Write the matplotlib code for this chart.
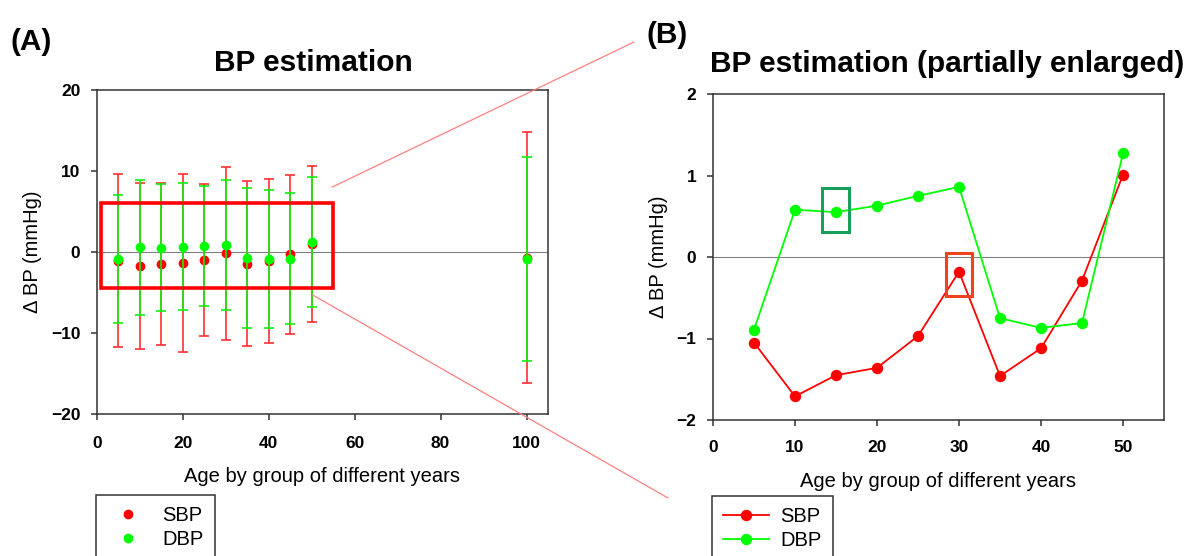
import numpy as np
import matplotlib
matplotlib.use("Agg")
import matplotlib.pyplot as plt
from matplotlib.lines import Line2D
from matplotlib.patches import Rectangle, ConnectionPatch

plt.rcParams['font.family'] = ['Liberation Sans', 'DejaVu Sans']

# ---- data ----
age = [5, 10, 15, 20, 25, 30, 35, 40, 45, 50, 100]
sbp_mean = [-1.05, -1.71, -1.45, -1.36, -0.97, -0.18, -1.46, -1.12, -0.29, 1.01, -0.70]
dbp_mean = [-0.89, 0.58, 0.55, 0.63, 0.75, 0.86, -0.75, -0.87, -0.81, 1.27, -0.88]
sbp_sd = [10.68, 10.29, 10.00, 10.93, 9.35, 10.68, 10.19, 10.17, 9.78, 9.60, 15.50]
dbp_sd = [7.93, 8.35, 7.80, 7.85, 7.42, 8.00, 8.60, 8.48, 8.14, 8.00, 12.60]

# enlarged view uses the groups up to 50 years
n_zoom = 10

RED = '#ff0000'
GREEN = '#00ff00'
SPINE = '#333333'

W, H = 1195, 556
fig = plt.figure(figsize=(W / 100, H / 100), dpi=100)


def style(ax):
    for s in ax.spines.values():
        s.set_color(SPINE)
        s.set_linewidth(1.1)
    ax.tick_params(direction='out', length=4, width=1.1, color=SPINE,
                   labelsize=12.5)
    for lab in ax.get_xticklabels() + ax.get_yticklabels():
        lab.set_fontweight('bold')
    ax.axhline(0, color='#808080', lw=0.8, zorder=1)


#### (A) full range ####
ax1 = fig.add_axes([97 / W, 1 - 414 / H, 451 / W, 324 / H])
ax1.errorbar(age, sbp_mean, yerr=sbp_sd, fmt='o', color=RED, ecolor='#ff3030',
             ms=6, elinewidth=1.2, capsize=3.6, capthick=1.2, zorder=3)
ax1.errorbar(age, dbp_mean, yerr=dbp_sd, fmt='o', color=GREEN, ecolor='#10f010',
             ms=6, elinewidth=1.2, capsize=3.6, capthick=1.2, zorder=4)
ax1.set_xlim(0, 105)
ax1.set_ylim(-20, 20)
ax1.set_xticks([0, 20, 40, 60, 80, 100])
ax1.set_yticks([-20, -10, 0, 10, 20])
ax1.tick_params(axis='x', pad=12)
ax1.tick_params(axis='y', pad=8)
style(ax1)
ax1.add_patch(Rectangle((0.9, -4.45), 54.0, 10.5, fill=False, ec=RED, lw=2.6, zorder=5))
ax1.set_xlabel('Age by group of different years', fontsize=14.5)
ax1.xaxis.set_label_coords(0.5, -0.165)
ax1.set_ylabel('\u0394 BP (mmHg)', fontsize=14.5, va='center')
ax1.yaxis.set_label_coords(-0.142, 0.5)

#### (B) enlarged ####
ax2 = fig.add_axes([713 / W, 1 - 420 / H, 451 / W, 326 / H])
ax2.plot(age[:n_zoom], sbp_mean[:n_zoom], '-o', color=RED, lw=1.3, ms=7.2, zorder=3, label='SBP')
ax2.plot(age[:n_zoom], dbp_mean[:n_zoom], '-o', color=GREEN, lw=1.3, ms=7.2, zorder=4, label='DBP')
ax2.set_xlim(0, 55)
ax2.set_ylim(-2, 2)
ax2.set_xticks([0, 10, 20, 30, 40, 50])
ax2.set_yticks([-2, -1, 0, 1, 2])
ax2.tick_params(axis='x', pad=10.5)
ax2.tick_params(axis='y', pad=8)
style(ax2)
ax2.add_patch(Rectangle((13.3, 0.31), 3.3, 0.54, fill=False, ec='#16a05a', lw=2.2, zorder=5))
ax2.add_patch(Rectangle((28.4, -0.48), 3.2, 0.53, fill=False, ec='#f0421e', lw=2.2, zorder=5))
ax2.set_xlabel('Age by group of different years', fontsize=14.5)
ax2.xaxis.set_label_coords(0.5, -0.160)
ax2.set_ylabel('\u0394 BP (mmHg)', fontsize=14.5, va='center')
ax2.yaxis.set_label_coords(-0.12, 0.5)

# zoom connector lines from box A towards panel B (drawn over the axes)
for (xa, ya), (xf, yf) in [((54.7, 8.0), (634, 42)), ((50.2, -5.3), (668, 498))]:
    con = ConnectionPatch(xyA=(xa, ya), coordsA=ax1.transData,
                          xyB=(xf / W, 1 - yf / H), coordsB=fig.transFigure,
                          color='#ff8080', lw=0.9, zorder=5)
    fig.add_artist(con)

# titles and panel letters
fig.text(313 / W, 1 - 71 / H, 'BP estimation', fontsize=21.5, fontweight='bold',
         ha='center', va='baseline')
fig.text(947 / W, 1 - 72 / H, 'BP estimation (partially enlarged)', fontsize=21.5,
         fontweight='bold', ha='center', va='baseline')
fig.text(10 / W, 1 - 50 / H, '(A)', fontsize=21.5, fontweight='bold', va='baseline')
fig.text(646 / W, 1 - 43 / H, '(B)', fontsize=21.5, fontweight='bold', va='baseline')

# legends (run off the bottom edge like in the original)
h_a = [Line2D([], [], ls='none', marker='o', color=RED, ms=6),
       Line2D([], [], ls='none', marker='o', color=GREEN, ms=6)]
leg1 = fig.legend(h_a, ['SBP', 'DBP'], loc='upper left',
                  bbox_to_anchor=(96 / W, 1 - 495 / H), borderaxespad=0,
                  fontsize=14.5, frameon=True, fancybox=False, framealpha=1,
                  edgecolor=SPINE, borderpad=0.55, handlelength=2.1,
                  handletextpad=0.65, labelspacing=0.25)
leg1.get_frame().set_linewidth(1.1)

h_b, l_b = ax2.get_legend_handles_labels()
leg2 = fig.legend(h_b, l_b, loc='upper left',
                  bbox_to_anchor=(712 / W, 1 - 496 / H), borderaxespad=0,
                  fontsize=14.5, frameon=True, fancybox=False, framealpha=1,
                  edgecolor=SPINE, borderpad=0.55, handlelength=2.3,
                  handletextpad=0.55, labelspacing=0.25)
leg2.get_frame().set_linewidth(1.1)

fig.savefig('out.png', dpi=100)
